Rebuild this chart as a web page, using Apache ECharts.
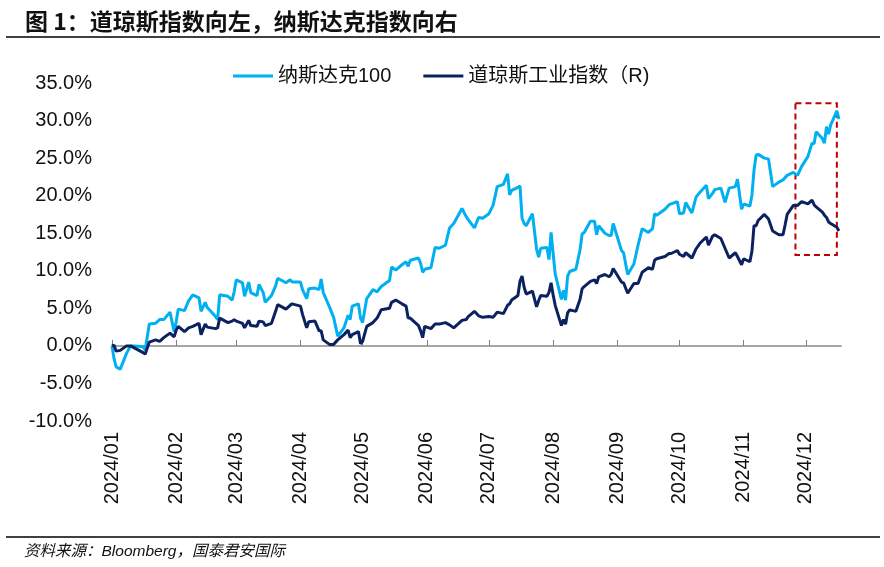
<!DOCTYPE html>
<html>
<head>
<meta charset="utf-8">
<script src="https://cdn.jsdelivr.net/npm/echarts@6/dist/echarts.min.js"></script>
<style>html,body{margin:0;padding:0;background:#fff}#c{width:884px;height:567px}</style>
</head>
<body>
<div id="c"></div>
<script>
var titleText = '图 1：道琼斯指数向左，纳斯达克指数向右';
var sourceText = '资料来源：Bloomberg，国泰君安国际';
var seriesNames = ['纳斯达克100', '道琼斯工业指数（R)'];
var yTicks = {min: -10, max: 35, step: 5};

var dates = [
'2024-01-01','2024-01-02','2024-01-03','2024-01-05','2024-01-08','2024-01-10','2024-01-12','2024-01-16','2024-01-17','2024-01-19',
'2024-01-22','2024-01-24','2024-01-26','2024-01-29','2024-01-31','2024-02-01','2024-02-02','2024-02-05','2024-02-07','2024-02-09',
'2024-02-12','2024-02-13','2024-02-15','2024-02-16','2024-02-20','2024-02-21','2024-02-22','2024-02-26','2024-02-28','2024-02-29',
'2024-03-01','2024-03-04','2024-03-05','2024-03-07','2024-03-08','2024-03-11','2024-03-12','2024-03-14','2024-03-15','2024-03-18',
'2024-03-20','2024-03-21','2024-03-25','2024-03-27','2024-03-28','2024-04-01','2024-04-02','2024-04-04','2024-04-05','2024-04-08',
'2024-04-10','2024-04-11','2024-04-12','2024-04-15','2024-04-17','2024-04-19','2024-04-22','2024-04-24','2024-04-25','2024-04-26',
'2024-04-29','2024-04-30','2024-05-01','2024-05-03','2024-05-06','2024-05-08','2024-05-10','2024-05-14','2024-05-15','2024-05-17',
'2024-05-20','2024-05-22','2024-05-23','2024-05-24','2024-05-28','2024-05-29','2024-05-30','2024-05-31','2024-06-03','2024-06-05',
'2024-06-07','2024-06-10','2024-06-12','2024-06-14','2024-06-18','2024-06-20','2024-06-21','2024-06-24','2024-06-26','2024-06-28',
'2024-07-01','2024-07-03','2024-07-05','2024-07-08','2024-07-10','2024-07-11','2024-07-12','2024-07-15','2024-07-16','2024-07-17',
'2024-07-18','2024-07-19','2024-07-22','2024-07-24','2024-07-25','2024-07-26','2024-07-29','2024-07-30','2024-07-31','2024-08-01',
'2024-08-02','2024-08-05','2024-08-06','2024-08-07','2024-08-08','2024-08-09','2024-08-12','2024-08-14','2024-08-15','2024-08-16',
'2024-08-19','2024-08-21','2024-08-22','2024-08-23','2024-08-26','2024-08-28','2024-08-29','2024-08-30','2024-09-03','2024-09-04',
'2024-09-06','2024-09-09','2024-09-11','2024-09-13','2024-09-16','2024-09-18','2024-09-19','2024-09-20','2024-09-24','2024-09-26',
'2024-09-27','2024-09-30','2024-10-01','2024-10-03','2024-10-04','2024-10-07','2024-10-09','2024-10-11','2024-10-14','2024-10-15',
'2024-10-17','2024-10-18','2024-10-21','2024-10-23','2024-10-25','2024-10-28','2024-10-29','2024-10-31','2024-11-01','2024-11-04',
'2024-11-05','2024-11-06','2024-11-07','2024-11-08','2024-11-11','2024-11-13','2024-11-15','2024-11-18','2024-11-20','2024-11-21',
'2024-11-22','2024-11-25','2024-11-27','2024-11-29','2024-12-02','2024-12-04','2024-12-05','2024-12-06','2024-12-09','2024-12-10',
'2024-12-11','2024-12-12','2024-12-13','2024-12-16','2024-12-17'
];

var nasdaq100 = [
0,-1.7,-2.8,-3.1,-1.0,0.0,0.0,-0.1,-0.6,2.9,
3.0,3.5,3.5,4.5,1.9,3.2,4.9,4.7,6.0,6.8,
6.4,4.6,5.8,5.1,3.9,3.5,6.8,6.6,6.1,7.2,
8.8,8.4,6.6,8.5,7.1,6.7,8.2,7.1,5.8,6.7,
8.0,9.0,8.4,8.8,8.5,8.5,7.5,6.3,7.6,7.7,
7.5,8.9,7.1,5.2,3.8,1.3,2.4,4.1,3.5,5.3,
5.6,3.7,3.1,6.3,7.5,7.2,7.9,8.7,10.5,10.1,
10.8,11.2,10.6,11.4,11.7,11.0,9.8,10.2,10.4,13.1,
13.0,13.4,15.7,16.3,18.3,17.2,16.8,15.7,17.1,17.0,
17.6,18.7,21.2,21.5,22.9,20.1,20.7,21.1,21.3,17.0,
16.3,16.0,17.6,12.9,11.8,13.0,13.1,11.5,15.1,12.3,
9.6,6.2,7.4,6.1,9.3,9.9,10.2,12.8,14.9,15.1,
16.6,16.6,14.8,16.0,15.0,14.7,14.7,16.3,12.7,12.4,
9.5,10.9,13.4,15.6,15.1,15.6,17.6,17.4,18.2,18.8,
18.9,19.2,17.6,17.7,19.1,17.7,19.8,20.5,21.4,19.6,
20.3,20.8,21.0,19.1,21.0,21.2,22.2,18.2,18.9,18.6,
20.1,23.4,25.4,25.5,25.0,24.9,21.2,21.8,22.1,22.4,
22.7,23.1,22.7,23.9,25.2,27.0,26.9,28.5,27.6,27.0,
29.2,28.2,29.4,31.3,30.2
];

var dowJones = [
0,0.1,-0.7,-0.6,0.0,0.0,-0.3,-0.9,-1.1,0.5,
0.8,0.6,1.1,1.7,1.2,2.1,2.6,1.9,2.4,2.6,
3.0,1.5,2.9,2.5,2.3,2.4,3.7,3.1,3.3,3.5,
3.3,3.0,2.4,3.4,2.7,2.6,3.3,3.2,2.7,3.0,
4.6,5.5,4.9,5.4,5.6,5.3,4.2,2.4,3.2,3.3,
2.0,2.0,0.8,0.2,0.2,0.8,1.5,2.1,1.1,1.5,
1.9,0.3,0.6,2.6,3.1,3.7,4.8,5.0,5.8,6.1,
5.6,5.3,3.7,3.7,2.7,2.0,1.1,2.6,2.3,2.9,
2.9,3.1,2.8,2.4,3.4,3.5,3.9,4.6,4.0,3.8,
3.9,3.8,4.5,4.3,5.4,5.6,6.1,6.7,8.6,9.3,
7.8,6.9,7.3,5.2,6.0,6.7,6.6,7.1,8.4,6.8,
5.4,2.7,3.5,2.9,4.4,4.8,4.6,6.2,7.6,7.9,
8.6,8.8,8.3,9.2,9.5,9.2,9.5,10.3,8.5,8.4,
7.0,8.3,8.3,9.8,10.4,10.2,11.4,11.6,11.9,12.3,
12.3,12.7,12.2,11.9,12.4,11.7,12.9,13.7,14.5,13.4,
14.6,14.8,14.3,13.0,11.7,12.4,11.9,10.8,11.6,11.2,
12.6,16.0,16.0,16.7,17.5,16.9,15.3,14.8,14.8,16.1,
17.5,18.7,18.7,19.2,18.9,19.4,18.8,18.5,17.8,17.4,
17.1,16.5,16.3,15.8,15.3
];

var highlightBox = {x0: '2024-11-26', x1: '2024-12-16', y0: 12.1, y1: 32.3};

function pairs(vals) { return dates.map(function (d, i) { return [d, vals[i]]; }); }

var chart = echarts.init(document.getElementById('c'), null, {renderer: 'canvas'});
var cjk = 'Liberation Sans, Arial, "Noto Sans CJK SC", sans-serif';
chart.setOption({
  animation: false,
  backgroundColor: '#fff',
  title: [
    {text: titleText, left: 20, top: 5, textStyle: {fontSize: 23, fontWeight: 'bold', color: '#111', fontFamily: '"Noto Sans CJK SC", sans-serif'}},
    {text: sourceText, left: 19, top: 539, textStyle: {fontSize: 15.5, fontStyle: 'italic', fontWeight: 'normal', color: '#111', fontFamily: cjk}}
  ],
  graphic: [
    {type: 'line', shape: {x1: 6, y1: 37, x2: 880, y2: 37}, style: {stroke: '#000', lineWidth: 1.5}},
    {type: 'line', shape: {x1: 6, y1: 537, x2: 880, y2: 537}, style: {stroke: '#000', lineWidth: 1.5}}
  ],
  legend: {
    top: 61, left: 228, itemWidth: 40, itemHeight: 3, itemGap: 32, icon: 'rect',
    textStyle: {fontSize: 20, color: '#111', fontFamily: cjk},
    data: seriesNames
  },
  grid: {left: 112, right: 43, top: 83, bottom: 146, outerBoundsMode: 'none', containLabel: false},
  xAxis: {
    type: 'time',
    min: '2024-01-01', max: '2024-12-18',
    splitNumber: 12,
    minInterval: 28 * 86400000,
    maxInterval: 31 * 86400000,
    axisLine: {onZero: true, lineStyle: {color: '#A6A6A6', width: 2}},
    axisTick: {show: true, inside: true, length: 6, lineStyle: {color: '#808080', width: 1}},
    splitLine: {show: false},
    axisLabel: {
      rotate: 90, margin: 11, fontSize: 20, color: '#111', fontFamily: cjk,
      formatter: function (v) { var d = new Date(v); var m = d.getMonth() + 1; return d.getFullYear() + '/' + (m < 10 ? '0' + m : m); }
    }
  },
  yAxis: {
    type: 'value', min: yTicks.min, max: yTicks.max, interval: yTicks.step,
    axisLine: {show: false}, axisTick: {show: false}, splitLine: {show: false},
    axisLabel: {margin: 20, fontSize: 20, color: '#111', fontFamily: cjk, formatter: function (v) { return v.toFixed(1) + '%'; }}
  },
  series: [
    {
      name: seriesNames[0], type: 'line', data: pairs(nasdaq100), showSymbol: false, symbol: 'none',
      lineStyle: {color: '#00B0F0', width: 3}, itemStyle: {color: '#00B0F0'},
      markArea: {
        silent: true,
        itemStyle: {color: 'rgba(0,0,0,0)', borderColor: '#C00000', borderWidth: 2, borderType: [6, 4]},
        data: [[{xAxis: highlightBox.x0, yAxis: highlightBox.y1}, {xAxis: highlightBox.x1, yAxis: highlightBox.y0}]]
      }
    },
    {
      name: seriesNames[1], type: 'line', data: pairs(dowJones), showSymbol: false, symbol: 'none',
      lineStyle: {color: '#0C2160', width: 3}, itemStyle: {color: '#0C2160'}
    }
  ]
});
</script>
</body>
</html>
